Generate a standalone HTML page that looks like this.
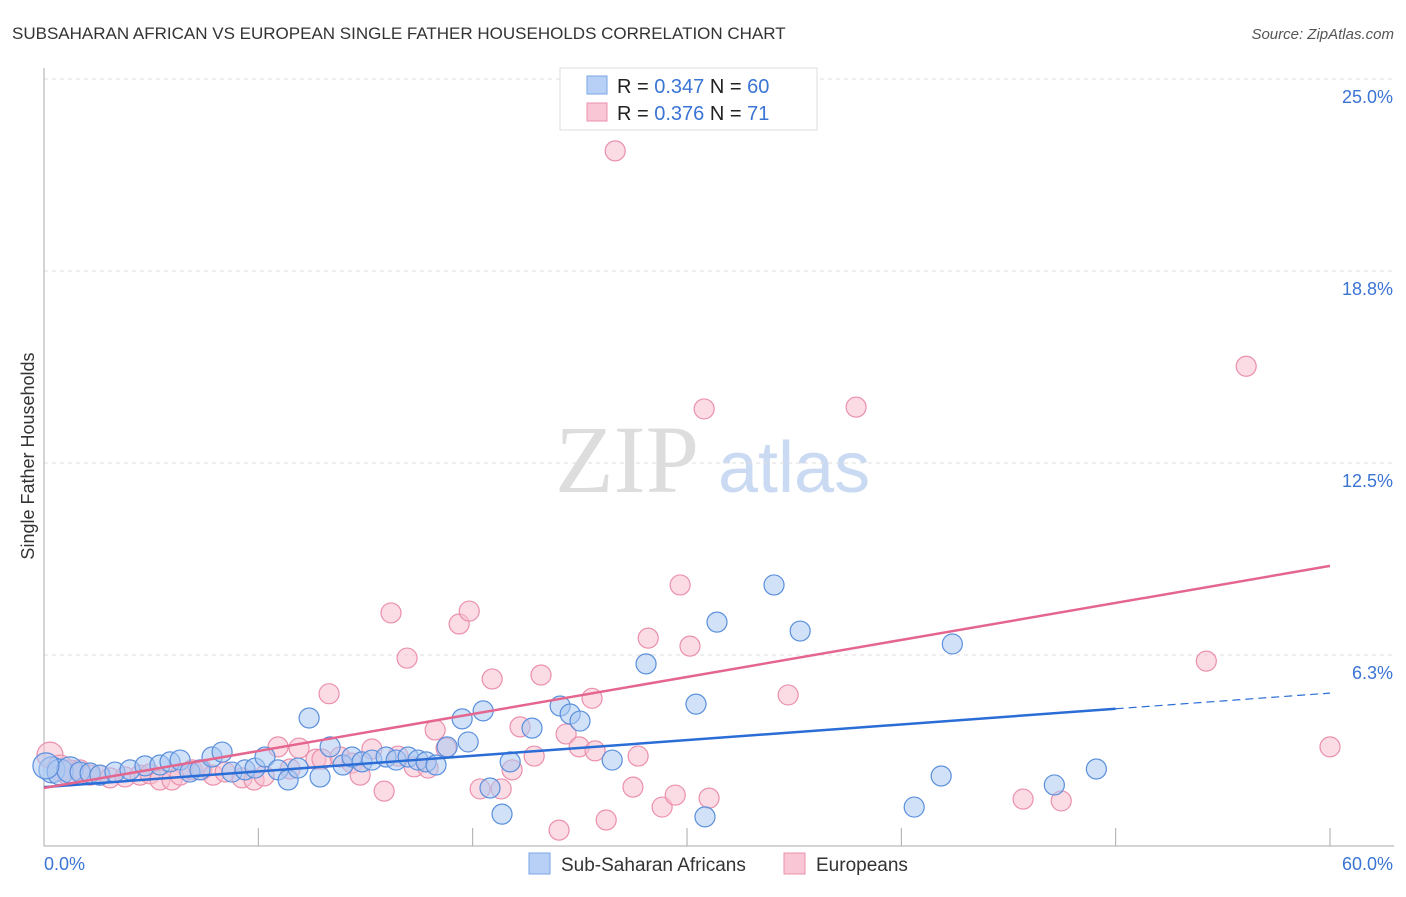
<!DOCTYPE html>
<html><head><meta charset="utf-8"><style>
body{margin:0;background:#fff;font-family:"Liberation Sans",sans-serif}
</style></head><body>
<svg id="c" width="1406" height="892" xmlns="http://www.w3.org/2000/svg">
<text x="12" y="39" font-size="17" fill="#333">SUBSAHARAN AFRICAN VS EUROPEAN SINGLE FATHER HOUSEHOLDS CORRELATION CHART</text>
<text x="1394" y="39" font-size="15" fill="#555" font-style="italic" text-anchor="end">Source: ZipAtlas.com</text>
<text x="34" y="456" font-size="18" fill="#333" transform="rotate(-90 34 456)" text-anchor="middle">Single Father Households</text>
<text x="555" y="492" font-size="96" fill="#ddd" font-family="Liberation Serif">ZIP</text>
<text x="718" y="492" font-size="72" fill="#c9daf2">atlas</text>
<g id="grid"></g><g id="pts"></g><g id="lines"></g>
<g>
<rect x="560" y="68" width="257" height="62" fill="#fff" stroke="#ddd"/>
<rect x="587" y="76" width="20" height="18" fill="#b8d0f5" stroke="#7aa6e8"/>
<rect x="587" y="103" width="20" height="18" fill="#f8c6d4" stroke="#ec92ad"/>
<text x="617" y="93" font-size="20" fill="#222">R = <tspan fill="#3a74d4">0.347</tspan>   N = <tspan fill="#3a74d4">60</tspan></text>
<text x="617" y="120" font-size="20" fill="#222">R =  <tspan fill="#3a74d4">0.376</tspan>   N =   <tspan fill="#3a74d4">71</tspan></text>
</g>
<g>
<rect x="529" y="853" width="21" height="21" fill="#b8d0f5" stroke="#7aa6e8"/>
<text x="561" y="871" font-size="19" fill="#333">Sub-Saharan Africans</text>
<rect x="784" y="853" width="21" height="21" fill="#f8c6d4" stroke="#ec92ad"/>
<text x="816" y="871" font-size="19" fill="#333">Europeans</text>
</g>
</svg>
<script>
const xTicks=[0,10,20,30,40,50,60];
const yTicks=[6.25,12.5,18.75,25];
const yTickLabels=["6.3%","12.5%","18.8%","25.0%"];
const xLabels=["0.0%","60.0%"];
const blueX=[0.37,0.75,1.21,1.68,2.15,2.61,3.31,4.01,4.71,5.41,5.88,6.35,6.81,7.28,7.84,8.31,8.77,9.38,9.85,10.31,10.92,11.39,11.85,12.37,12.88,13.35,13.95,14.37,14.84,15.30,15.96,16.43,16.99,17.45,17.83,18.29,18.81,19.51,19.79,20.49,20.81,21.37,21.75,22.77,24.08,24.55,25.01,26.51,28.09,30.42,30.84,31.40,34.06,35.28,40.60,41.86,42.38,47.14,49.10,0.09];
const blueY=[2.51,2.44,2.51,2.44,2.41,2.34,2.44,2.51,2.64,2.67,2.77,2.83,2.44,2.51,2.93,3.09,2.44,2.51,2.57,2.93,2.51,2.18,2.57,4.20,2.28,3.26,2.67,2.93,2.77,2.83,2.93,2.83,2.93,2.83,2.77,2.67,3.26,4.17,3.42,4.43,1.92,1.07,2.77,3.87,4.59,4.33,4.10,2.83,5.96,4.65,0.98,7.32,8.53,7.03,1.30,2.31,6.61,2.02,2.54,2.64];
const pinkX=[0.28,0.75,1.21,1.68,2.15,2.61,3.08,3.78,4.48,4.95,5.41,5.97,6.35,6.91,7.37,7.89,8.45,9.24,9.80,10.27,10.92,11.48,11.90,12.69,12.97,13.30,13.81,14.37,14.75,15.30,15.87,16.19,16.52,16.94,17.27,17.92,18.25,18.76,19.37,19.84,20.35,20.91,21.33,21.84,22.21,22.87,23.19,24.03,24.36,24.97,25.57,25.71,26.23,26.65,27.48,27.72,28.19,28.84,29.45,29.68,30.14,30.80,31.03,32.20,34.72,37.89,45.68,47.46,54.23,56.09,60.0];
const pinkY=[2.99,2.57,2.41,2.51,2.34,2.34,2.25,2.28,2.34,2.38,2.18,2.18,2.34,2.51,2.51,2.34,2.44,2.25,2.18,2.31,3.26,2.54,3.22,2.86,2.86,4.99,2.93,2.73,2.34,3.19,1.82,7.62,2.96,6.15,2.61,2.57,3.81,3.22,7.26,7.68,1.89,5.47,1.89,2.51,3.91,2.96,5.60,0.55,3.68,3.26,4.84,3.13,0.88,22.66,1.95,2.96,6.80,1.30,1.69,8.53,6.54,14.26,1.59,23.76,4.95,14.32,1.56,1.50,6.05,15.65,3.26];
const blueFit=[1.95,5.01], pinkFit=[1.92,9.15], blueSolidEnd=50;
const L=44,R=1330,B=847;
const X=v=>L+v/60*(R-L), Y=v=>B-v*30.72;
const NS="http://www.w3.org/2000/svg";
function mk(p,t,a){const e=document.createElementNS(NS,t);for(const k in a)e.setAttribute(k,a[k]);p.appendChild(e);return e;}
const g=document.getElementById('grid');
yTicks.forEach((t,i)=>{
 const l=mk(g,'line',{x1:L,x2:R+64,y1:Y(t),y2:Y(t),stroke:'#ddd','stroke-dasharray':'4 4'});
 
 
 const tx=mk(g,'text',{x:1393,y:Y(t)+24,'font-size':18,fill:'#3a74d4','text-anchor':'end'});tx.textContent=yTickLabels[i];
 
 
});
mk(g,'line',{x1:L,x2:L,y1:68,y2:846,stroke:'#aaa'});
mk(g,'line',{x1:L,x2:1394,y1:846,y2:846,stroke:'#aaa'});
xTicks.forEach(t=>{const l=mk(g,'line',{x1:X(t),x2:X(t),y1:828,y2:846,stroke:'#aaa'});
 
 });
[[0,44,'start'],[1,1393,'end']].forEach(([i,x,a])=>{const t=mk(g,'text',{x:x,y:870,'font-size':18,fill:'#3a74d4','text-anchor':a});t.textContent=xLabels[i];
 
 });
const pg=document.getElementById('pts');
function pts(xs,ys,fill,stroke,name){xs.forEach((x,i)=>{const r=(x<1.5)?13:10;
 const c=mk(pg,'circle',{cx:X(x),cy:Y(ys[i]),r:r,fill:fill,'fill-opacity':0.55,stroke:stroke,'stroke-width':1.2});
 
 });}
pts(pinkX,pinkY,'#f8bfd0','#eb8fab','european-point');
pts(blueX,blueY,'#aac8f2','#5a8fdc','subsaharan-point');
const lg=document.getElementById('lines');
const bAt=x=>blueFit[0]+(blueFit[1]-blueFit[0])*x/60;
let l1=mk(lg,'line',{x1:X(0),y1:Y(bAt(0)),x2:X(blueSolidEnd),y2:Y(bAt(blueSolidEnd)),stroke:'#2a6dd6','stroke-width':2.5});


let l2=mk(lg,'line',{x1:X(blueSolidEnd),y1:Y(bAt(blueSolidEnd)),x2:X(60),y2:Y(bAt(60)),stroke:'#2a6dd6','stroke-width':1.2,'stroke-dasharray':'8 5'});


let l3=mk(lg,'line',{x1:X(0),y1:Y(pinkFit[0]),x2:X(60),y2:Y(pinkFit[1]),stroke:'#e4668f','stroke-width':2.5});


</script>
</body></html>
